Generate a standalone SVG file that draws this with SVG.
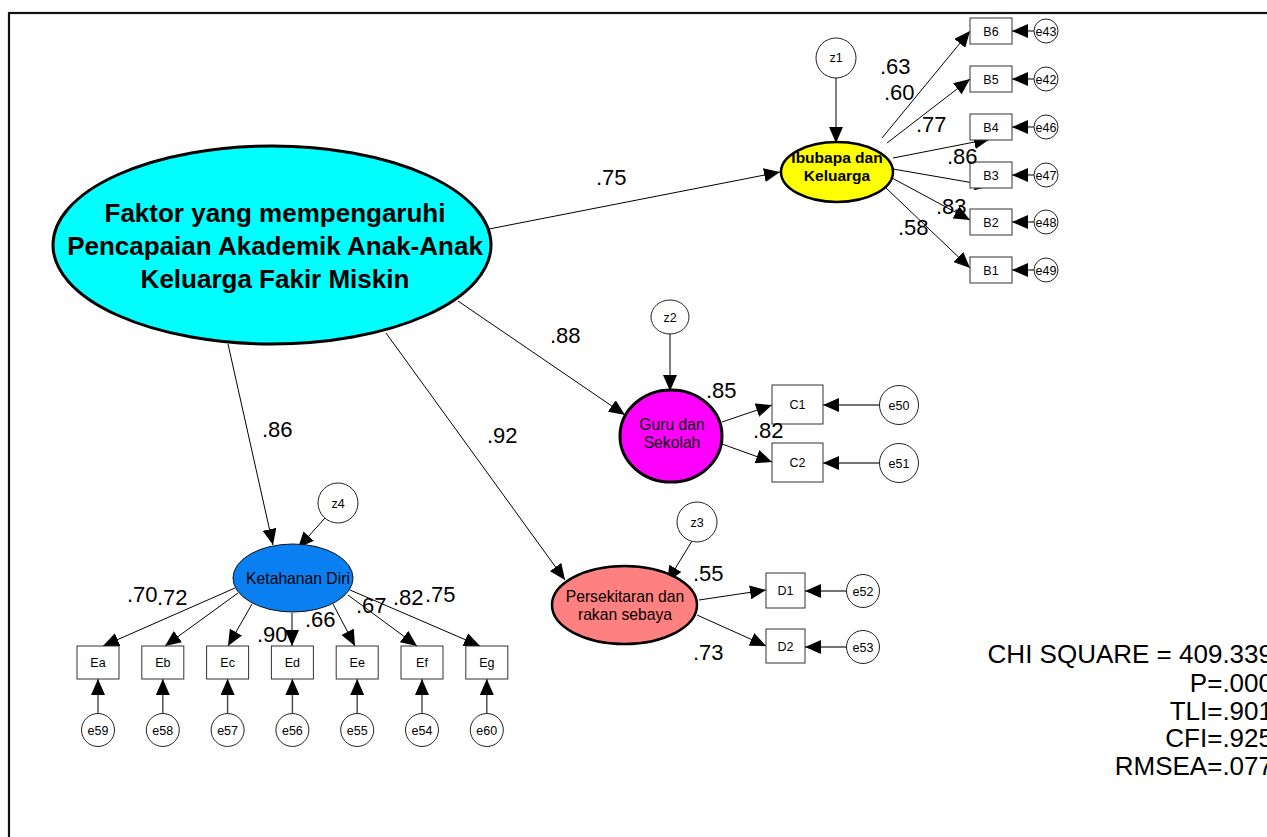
<svg xmlns="http://www.w3.org/2000/svg" width="1267" height="837" viewBox="0 0 1267 837">
<defs>
<marker id="ah" viewBox="0 0 16 14" refX="16" refY="7" markerWidth="16" markerHeight="14" orient="auto" markerUnits="userSpaceOnUse">
<path d="M0,0 L16,7 L0,14 z" fill="#000"/>
</marker>
</defs>
<style>
text{font-family:"Liberation Sans",Arial,sans-serif;fill:#000}
.lbl{font-size:22px}
.sm{font-size:12.5px;text-anchor:middle}
.lat{font-size:15.7px;text-anchor:middle}
.conn line{stroke:#000;stroke-width:1;marker-end:url(#ah)}
.conn line.err{stroke:#444;stroke-width:1.4}
.box{fill:#fff;stroke:#333;stroke-width:1}
.circ{fill:#fff;stroke:#222;stroke-width:1}
.stat{font-size:26px;text-anchor:end}
</style>
<rect width="1267" height="837" fill="#fff"/>
<rect x="9" y="13" width="1300" height="900" fill="none" stroke="#111" stroke-width="2.2"/>

<g class="conn" id="connectors">
<line x1="489" y1="229" x2="780" y2="172"/>
<line x1="458" y1="301" x2="625" y2="415"/>
<line x1="386" y1="333" x2="565" y2="580"/>
<line x1="228" y1="344" x2="273" y2="545"/>
<line x1="836" y1="78" x2="836" y2="143"/>
<line x1="882" y1="138" x2="970" y2="31"/>
<line x1="887" y1="143" x2="970" y2="79"/>
<line x1="893" y1="158" x2="990" y2="139"/>
<line x1="893" y1="169" x2="991" y2="186"/>
<line x1="892" y1="178" x2="970" y2="220"/>
<line x1="885" y1="187" x2="970" y2="268"/>
<line class="err" x1="1034" y1="31" x2="1012" y2="31"/>
<line class="err" x1="1034" y1="79" x2="1012" y2="79"/>
<line class="err" x1="1034" y1="127" x2="1012" y2="127"/>
<line class="err" x1="1034" y1="175" x2="1012" y2="175"/>
<line class="err" x1="1034" y1="222" x2="1012" y2="222"/>
<line class="err" x1="1034" y1="270" x2="1012" y2="270"/>
<line x1="670" y1="334" x2="670" y2="391"/>
<line x1="722" y1="422" x2="772" y2="405"/>
<line x1="722" y1="444" x2="772" y2="462"/>
<line class="err" x1="879.5" y1="405" x2="823" y2="405"/>
<line class="err" x1="879.5" y1="463" x2="823" y2="463"/>
<line x1="692" y1="541" x2="667" y2="582"/>
<line x1="699" y1="600" x2="766" y2="590"/>
<line x1="697" y1="615" x2="766" y2="646"/>
<line class="err" x1="846.5" y1="591" x2="805" y2="591"/>
<line class="err" x1="846.5" y1="647" x2="805" y2="647"/>
<line x1="325" y1="518" x2="298" y2="548"/>
<line x1="235" y1="588" x2="103" y2="646"/>
<line x1="238" y1="593" x2="165" y2="646"/>
<line x1="252" y1="604" x2="228" y2="646"/>
<line x1="292" y1="613" x2="292" y2="646"/>
<line x1="333" y1="604" x2="355" y2="646"/>
<line x1="348" y1="595" x2="417" y2="646"/>
<line x1="350" y1="590" x2="480" y2="646"/>
<line class="err" x1="98" y1="713.5" x2="98" y2="679"/>
<line class="err" x1="162.8" y1="713.5" x2="162.8" y2="679"/>
<line class="err" x1="227.6" y1="713.5" x2="227.6" y2="679"/>
<line class="err" x1="292.4" y1="713.5" x2="292.4" y2="679"/>
<line class="err" x1="357.2" y1="713.5" x2="357.2" y2="679"/>
<line class="err" x1="422" y1="713.5" x2="422" y2="679"/>
<line class="err" x1="486.8" y1="713.5" x2="486.8" y2="679"/>
</g>

<g id="main">
<ellipse cx="272" cy="245" rx="219" ry="99" fill="#00FFFF" stroke="#000" stroke-width="3"/>
<text x="275" y="222" font-size="26" font-weight="bold" text-anchor="middle">Faktor yang mempengaruhi</text>
<text x="275" y="255" font-size="26" font-weight="bold" text-anchor="middle">Pencapaian Akademik Anak-Anak</text>
<text x="275" y="288" font-size="26" font-weight="bold" text-anchor="middle">Keluarga Fakir Miskin</text>
</g>

<g id="ibubapa">
<ellipse cx="837" cy="172" rx="56" ry="30" fill="#FFFF00" stroke="#000" stroke-width="2.5"/>
<text x="837" y="163" font-size="15.5" font-weight="bold" text-anchor="middle">Ibubapa dan</text>
<text x="837" y="181" font-size="15.5" font-weight="bold" text-anchor="middle">Keluarga</text>
</g>
<g id="z1"><circle class="circ" cx="836" cy="58" r="20"/><text class="sm" x="836" y="62">z1</text></g>
<g id="B6"><rect class="box" x="970" y="18" width="42" height="26"/><text class="sm" x="991" y="35.5">B6</text></g>
<g id="B5"><rect class="box" x="970" y="66" width="42" height="26"/><text class="sm" x="991" y="83.5">B5</text></g>
<g id="B4"><rect class="box" x="970" y="114" width="42" height="26"/><text class="sm" x="991" y="131.5">B4</text></g>
<g id="B3"><rect class="box" x="970" y="162" width="42" height="26"/><text class="sm" x="991" y="179.5">B3</text></g>
<g id="B2"><rect class="box" x="970" y="209" width="42" height="26"/><text class="sm" x="991" y="226.5">B2</text></g>
<g id="B1"><rect class="box" x="970" y="257" width="42" height="26"/><text class="sm" x="991" y="274.5">B1</text></g>
<g id="e43"><circle class="circ" cx="1046" cy="31" r="12"/><text class="sm" x="1046" y="35.5">e43</text></g>
<g id="e42"><circle class="circ" cx="1046" cy="79" r="12"/><text class="sm" x="1046" y="83.5">e42</text></g>
<g id="e46"><circle class="circ" cx="1046" cy="127" r="12"/><text class="sm" x="1046" y="131.5">e46</text></g>
<g id="e47"><circle class="circ" cx="1046" cy="175" r="12"/><text class="sm" x="1046" y="179.5">e47</text></g>
<g id="e48"><circle class="circ" cx="1046" cy="222" r="12"/><text class="sm" x="1046" y="226.5">e48</text></g>
<g id="e49"><circle class="circ" cx="1046" cy="270" r="12"/><text class="sm" x="1046" y="274.5">e49</text></g>

<g id="guru">
<ellipse cx="671" cy="436" rx="51" ry="46" fill="#FF00FF" stroke="#000" stroke-width="3"/>
<text class="lat" x="672" y="430">Guru dan</text>
<text class="lat" x="672" y="448">Sekolah</text>
</g>
<g id="z2"><ellipse class="circ" cx="670" cy="317" rx="19" ry="17"/><text class="sm" x="670" y="321.5">z2</text></g>
<g id="C1"><rect class="box" x="772" y="385" width="51" height="39"/><text class="sm" x="797.5" y="409">C1</text></g>
<g id="C2"><rect class="box" x="772" y="443" width="51" height="39"/><text class="sm" x="797.5" y="467">C2</text></g>
<g id="e50"><circle class="circ" cx="899" cy="405" r="19.5"/><text class="sm" x="899" y="409.5">e50</text></g>
<g id="e51"><circle class="circ" cx="899" cy="463" r="19.5"/><text class="sm" x="899" y="467.5">e51</text></g>

<g id="persekitaran">
<ellipse cx="624.5" cy="605" rx="72.5" ry="39" fill="#FF8080" stroke="#000" stroke-width="2.5"/>
<text class="lat" x="625" y="602">Persekitaran dan</text>
<text class="lat" x="625" y="620">rakan sebaya</text>
</g>
<g id="z3"><circle class="circ" cx="697" cy="522" r="20"/><text class="sm" x="697" y="526.5">z3</text></g>
<g id="D1"><rect class="box" x="766" y="573" width="39" height="35"/><text class="sm" x="785.5" y="595">D1</text></g>
<g id="D2"><rect class="box" x="766" y="629" width="39" height="34"/><text class="sm" x="785.5" y="651">D2</text></g>
<g id="e52"><circle class="circ" cx="863" cy="591" r="16.5"/><text class="sm" x="863" y="595.5">e52</text></g>
<g id="e53"><circle class="circ" cx="863" cy="647" r="16.5"/><text class="sm" x="863" y="651.5">e53</text></g>

<g id="ketahanan">
<ellipse cx="293" cy="578" rx="60" ry="34" fill="#0A7FF2" stroke="#111" stroke-width="1"/>
<text class="lat" x="298" y="584">Ketahanan Diri</text>
</g>
<g id="z4"><circle class="circ" cx="338" cy="503" r="20"/><text class="sm" x="338" y="507.5">z4</text></g>
<g id="Ea"><rect class="box" x="77" y="646" width="42" height="33"/><text class="sm" x="98" y="667">Ea</text></g>
<g id="Eb"><rect class="box" x="141.8" y="646" width="42" height="33"/><text class="sm" x="162.8" y="667">Eb</text></g>
<g id="Ec"><rect class="box" x="206.6" y="646" width="42" height="33"/><text class="sm" x="227.6" y="667">Ec</text></g>
<g id="Ed"><rect class="box" x="271.4" y="646" width="42" height="33"/><text class="sm" x="292.4" y="667">Ed</text></g>
<g id="Ee"><rect class="box" x="336.2" y="646" width="42" height="33"/><text class="sm" x="357.2" y="667">Ee</text></g>
<g id="Ef"><rect class="box" x="401" y="646" width="42" height="33"/><text class="sm" x="422" y="667">Ef</text></g>
<g id="Eg"><rect class="box" x="465.8" y="646" width="42" height="33"/><text class="sm" x="486.8" y="667">Eg</text></g>
<g id="e59"><circle class="circ" cx="98" cy="730" r="16.5"/><text class="sm" x="98" y="734.5">e59</text></g>
<g id="e58"><circle class="circ" cx="162.8" cy="730" r="16.5"/><text class="sm" x="162.8" y="734.5">e58</text></g>
<g id="e57"><circle class="circ" cx="227.6" cy="730" r="16.5"/><text class="sm" x="227.6" y="734.5">e57</text></g>
<g id="e56"><circle class="circ" cx="292.4" cy="730" r="16.5"/><text class="sm" x="292.4" y="734.5">e56</text></g>
<g id="e55"><circle class="circ" cx="357.2" cy="730" r="16.5"/><text class="sm" x="357.2" y="734.5">e55</text></g>
<g id="e54"><circle class="circ" cx="422" cy="730" r="16.5"/><text class="sm" x="422" y="734.5">e54</text></g>
<g id="e60"><circle class="circ" cx="486.8" cy="730" r="16.5"/><text class="sm" x="486.8" y="734.5">e60</text></g>

<g id="labels">
<text class="lbl" x="596" y="185">.75</text>
<text class="lbl" x="550" y="343">.88</text>
<text class="lbl" x="487" y="443">.92</text>
<text class="lbl" x="262" y="437">.86</text>
<text class="lbl" x="880" y="74">.63</text>
<text class="lbl" x="884" y="100">.60</text>
<text class="lbl" x="916" y="132">.77</text>
<text class="lbl" x="947" y="164">.86</text>
<text class="lbl" x="936" y="214">.83</text>
<text class="lbl" x="898" y="235">.58</text>
<text class="lbl" x="706" y="398">.85</text>
<text class="lbl" x="753" y="438">.82</text>
<text class="lbl" x="693" y="581">.55</text>
<text class="lbl" x="693" y="660">.73</text>
<text class="lbl" x="127" y="602">.70</text>
<text class="lbl" x="157" y="605">.72</text>
<text class="lbl" x="257" y="642">.90</text>
<text class="lbl" x="305" y="627">.66</text>
<text class="lbl" x="356" y="613">.67</text>
<text class="lbl" x="393" y="605">.82</text>
<text class="lbl" x="425" y="602">.75</text>
</g>

<g id="stats">
<text class="stat" x="1273" y="663">CHI SQUARE = 409.339</text>
<text class="stat" x="1273" y="692">P=.000</text>
<text class="stat" x="1273" y="720">TLI=.901</text>
<text class="stat" x="1273" y="747">CFI=.925</text>
<text class="stat" x="1273" y="775">RMSEA=.077</text>
</g>
</svg>
